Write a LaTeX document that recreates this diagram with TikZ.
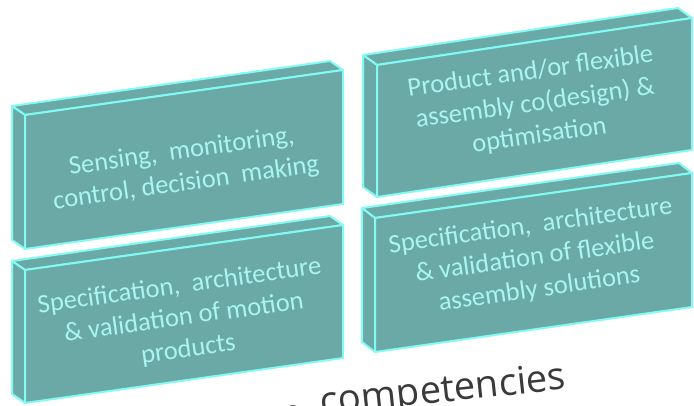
\documentclass[tikz,border=0pt]{standalone}
\usepackage{fontspec}
\setmainfont{Carlito}
\newfontfamily\capfont{Open Sans}
\definecolor{facefill}{HTML}{6AA9A6}
\definecolor{edgecol}{HTML}{84FAF4}
\definecolor{txtcol}{HTML}{A8F6EF}
\definecolor{captxt}{HTML}{3A3A3A}
\tikzset{
  faceside/.style={fill=facefill, draw=edgecol, line width=2pt, line join=round},
  boxtext/.style={text=txtcol, font=\fontsize{26.5}{32}\selectfont, align=center, rotate=8, inner sep=0pt},
}
% #1 TL x, #2 TL y, #3 TR x, #4 TR y, #5 height, #6 dx, #7 dy
\newcommand{\slabbox}[7]{%
  \path[faceside] (#1,#2) -- ++(#6,#7) -- ($(#3,#4)+(#6,#7)$) -- (#3,#4) -- cycle;
  \path[faceside] (#1,#2) -- ++(#6,#7) -- ++(0,#5) -- (#1,#2+#5) -- cycle;
  \path[faceside] (#1,#2) -- (#3,#4) -- (#3,#4+#5) -- (#1,#2+#5) -- cycle;
}
\usetikzlibrary{calc}
\begin{document}
\begin{tikzpicture}[x=1pt,y=-1pt]
\useasboundingbox (0,0) rectangle (694,406);
\clip (0,0) rectangle (694,406);
\fill[white] (0,0) rectangle (694,406);
% boxes
\slabbox{25}{115}{343}{70}{134}{-13}{-9}
\slabbox{377}{65}{692}{18}{132}{-14}{-10}
\slabbox{25}{270}{343}{225}{133}{-13}{-9}
\slabbox{375}{218}{692}{173}{134}{-13}{-10}
% texts
\node[boxtext] (t1) at (184,168) {Sensing,\ \ monitoring,\\control,\ decision\ \ making};
\node[boxtext] (t2) at (535,104) {Product and/or flexible\\assembly co(design) \&\\optimisation};
\node[boxtext] (t3) at (184,318) {Specification,\ \ architecture\\\& validation of motion\\products};
\node[boxtext] (t4) at (535,258) {Specification,\ \ architecture\\\& validation of flexible\\assembly solutions};
\node[text=captxt, font=\capfont\fontsize{38}{40}\selectfont, rotate=6, anchor=base east, inner sep=0pt] (cap) at (567,389) {\raisebox{-9pt}{e}\hspace{8pt} competencies};
\end{tikzpicture}
\end{document}
